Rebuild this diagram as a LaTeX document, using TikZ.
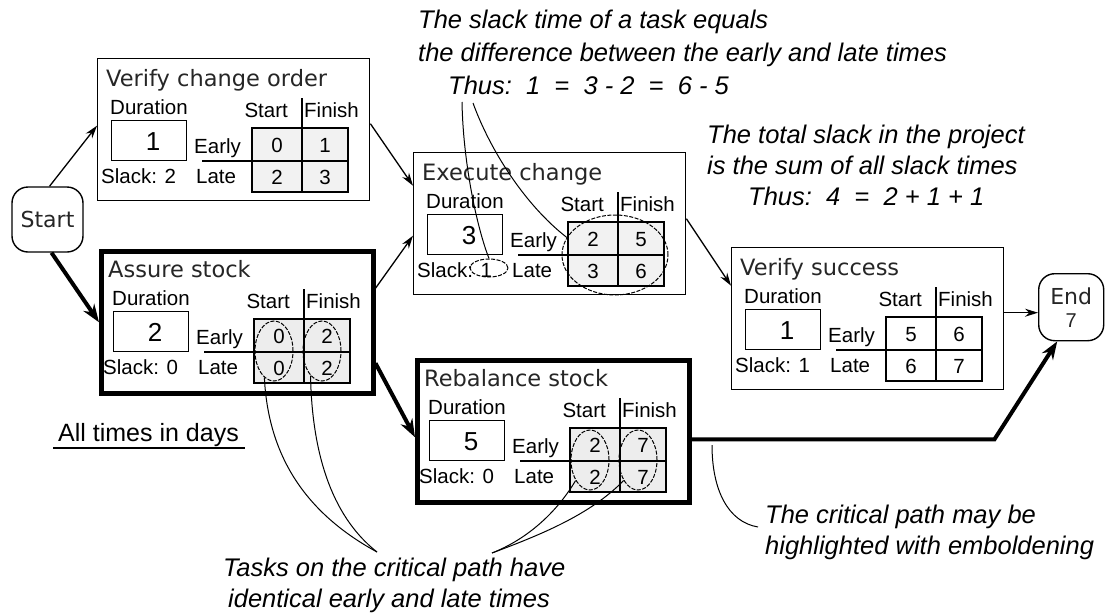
\documentclass[tikz,border=0pt]{standalone}
\usepackage{fontspec}
\setmainfont{Liberation Sans}
\newfontfamily\titlefont{DejaVu Sans}
\usetikzlibrary{arrows.meta,shapes.geometric}

\tikzset{
  thinbox/.style={draw, line width=1.4pt},
  thickbox/.style={draw, line width=4.5pt},
  ttl/.style={font=\titlefont\fontsize{22.5}{26}\selectfont, inner sep=0pt, text=black!85},
  lbl/.style={font=\fontsize{20.5}{24}\selectfont, inner sep=0pt},
  dig/.style={font=\fontsize{26}{30}\selectfont, inner sep=0pt},
  note/.style={font=\fontsize{25.5}{30}\selectfont\itshape, inner sep=0pt, anchor=base west},
  plainnote/.style={font=\fontsize{25}{30}\selectfont, inner sep=0pt, anchor=base west},
  conn/.style={line width=1.3pt, -{Stealth[length=13pt,width=8pt]}},
  crit/.style={line width=4pt, -{Stealth[length=18pt,width=13pt]}},
  ann/.style={line width=1pt},
  circ/.style={ellipse, draw, line width=1pt, dash pattern=on 4pt off 1.5pt, inner sep=0pt},
  gridline/.style={line width=1.3pt},
  term/.style={draw, line width=1.4pt, rounded corners=16pt, inner sep=0pt, text=black!85}
}

\def\gridvals#1/#2/#3/#4\relax{%
  \node[lbl,anchor=base] (\curname-es) at (180,94) {#1};
  \node[lbl,anchor=base] (\curname-ef) at (228,94) {#2};
  \node[lbl,anchor=base] (\curname-ls) at (180,126) {#3};
  \node[lbl,anchor=base] (\curname-lf) at (228,126) {#4};
}

\newcommand\taskbox[9]{%
\begin{scope}[shift={(#2,#3)}]
  \fill[#5] (155,70) rectangle (251,134);
  \node[#4, anchor=north west, minimum width=272pt, minimum height=142pt, inner sep=0pt] (#1) at (0,0) {};
  \node[ttl, anchor=base west] (#1-title) at (9,28) {#6};
  \node[lbl, anchor=base west] (#1-dur) at (13,56) {Duration};
  \node[thinbox, anchor=north west, minimum width=75pt, minimum height=40pt, inner sep=0pt] (#1-db) at (14,62) {};
  \node[dig, anchor=base] (#1-dv) at (56,92) {#7};
  \node[lbl, anchor=base west] (#1-early) at (97,95) {Early};
  \node[lbl, anchor=base west] (#1-late) at (99,125) {Late};
  \node[lbl, anchor=base west] (#1-slack) at (4,125) {Slack: #8};
  \node[lbl, anchor=base east] (#1-start) at (191,59) {Start};
  \node[lbl, anchor=base west] (#1-finish) at (207,59) {Finish};
  \draw[gridline] (155,70) rectangle (251,134);
  \draw[gridline] (105,103) -- (251,103);
  \draw[gridline] (205,40) -- (205,134);
  \def\curname{#1}%
  \gridvals#9\relax
\end{scope}}

\begin{document}
\begin{tikzpicture}[x=1pt,y=-1pt]
\useasboundingbox[fill=white] (0,0) rectangle (1107,613);

\taskbox{vco}{97}{58}{thinbox}{gray!10}{Verify change order}{1}{2}{0/1/2/3}
\taskbox{assure}{99}{249}{thickbox}{gray!14}{Assure stock}{2}{0}{0/2/0/2}
\taskbox{exec}{413}{152}{thinbox}{gray!10}{Execute change}{3}{1}{2/5/3/6}
\taskbox{vs}{731}{247}{thinbox}{white}{Verify success}{1}{1}{5/6/6/7}
\taskbox{rebal}{415}{358}{thickbox}{gray!14}{Rebalance stock}{5}{0}{2/7/2/7}

% highlight ellipses
\node[circ, minimum width=38pt, minimum height=60pt] (assure-c1) at (274,351) {};
\node[circ, minimum width=38pt, minimum height=60pt] (assure-c2) at (322,351) {};
\node[circ, minimum width=38pt, minimum height=60pt] (rebal-c1) at (590,460) {};
\node[circ, minimum width=38pt, minimum height=60pt] (rebal-c2) at (638,460) {};
\node[circ, minimum width=106pt, minimum height=80pt] (exec-c) at (615,255) {};
\node[circ, minimum width=38pt, minimum height=18pt] (exec-cs) at (489,268) {};

% terminals
\node[term, font=\titlefont\fontsize{22}{26}\selectfont, minimum width=71pt, minimum height=65pt] (start) at (47.5,219.5) {Start};
\node[term, align=center, font=\fontsize{20}{23}\selectfont, minimum width=65pt, minimum height=67pt, anchor=north west] (end) at (1038,273)
  {{\titlefont\fontsize{22}{23}\selectfont End}\\7};

% connectors
\draw[conn] ([xshift=2pt]start.north) -- ([yshift=4pt]vco.west);
\draw[crit] ([xshift=4pt]start.south) -- (assure.west);
\draw[conn] ([yshift=6pt]vco.east) -- ([yshift=38pt]exec.west);
\draw[conn] ([yshift=34pt]assure.east) -- ([yshift=-12pt]exec.west);
\draw[crit] ([yshift=-41pt]assure.east) -- ([yshift=-6pt]rebal.west);
\draw[conn] ([yshift=5pt]exec.east) -- ([yshift=33pt]vs.west);
\draw[conn] ([yshift=6pt]vs.east) -- ([yshift=6pt]vs.east -| end.west);
\draw[crit] ([yshift=-8pt]rebal.east) -- ++(303,0) -- ([xshift=-14pt]end.south);

% annotations
\node[note] (n1) at (418,28) {The slack time of a task equals};
\node[note] (n2) at (418,61) {the difference between the early and late times};
\node[note] (n3) at (448,94) {Thus:~~1~~=~~3 - 2~~=~~6 - 5};
\node[note] (n4) at (707,143) {The total slack in the project};
\node[note] (n5) at (707,174) {is the sum of all slack times};
\node[note] (n6) at (748,205) {Thus:~~4~~=~~2 + 1 + 1};
\node[plainnote] (n7) at (58,441) {All times in days};
\draw[line width=1.3pt] ([shift={(-5pt,-7pt)}]n7.base west) -- ([shift={(6pt,-7pt)}]n7.base east);
\node[note] (n8) at (223,576) {Tasks on the critical path have};
\node[note] (n9) at (228,607) {identical early and late times};
\node[note] (n10) at (765,523) {The critical path may be};
\node[note] (n11) at (765,554) {highlighted with emboldening};

% annotation pointers
\coordinate (a1) at (462,102);
\coordinate (a2) at (473,103);
\draw[ann] (a1) .. controls (463,160) and (476,225) .. (exec-cs.north);
\draw[ann] (a2) .. controls (490,150) and (525,205) .. (exec-c.160);
\coordinate (b1) at (377,552);
\draw[ann] (b1) .. controls (300,510) and (268,450) .. (assure-c1.250);
\draw[ann] (b1) .. controls (330,515) and (312,450) .. (assure-c2.245);
\coordinate (b2) at (492,553);
\draw[ann] (b2) .. controls (525,540) and (555,515) .. (rebal-c1.235);
\draw[ann] (b2) .. controls (540,535) and (590,515) .. (rebal-c2.235);
\coordinate (c1) at (712,445);
\coordinate (c2) at (758,527);
\draw[ann] (c1) .. controls (712,490) and (728,522) .. (c2);
\end{tikzpicture}
\end{document}
